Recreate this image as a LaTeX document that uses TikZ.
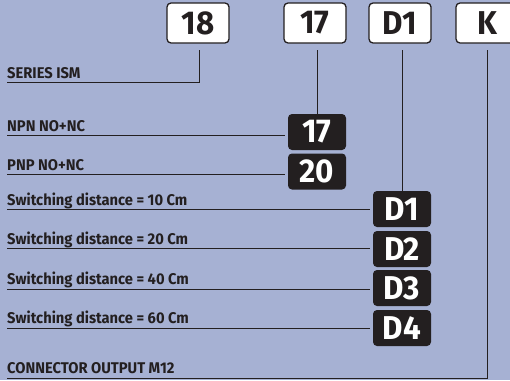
\documentclass[tikz,border=0pt]{standalone}
\usepackage{fontspec}
\newfontfamily\labfont[FakeStretch=0.95]{Fira Sans}
\newfontfamily\numfont[FakeStretch=0.95]{Fira Sans}
\definecolor{bg}{RGB}{166,177,211}
\definecolor{ink}{RGB}{35,31,32}
\begin{document}
\begin{tikzpicture}[x=1pt,y=-1pt,
 topbox/.style={draw=ink, line width=1.3pt, fill=white, rounded corners=4pt, minimum width=62pt, minimum height=40pt, inner sep=0pt, font=\numfont\bfseries\fontsize{33}{33}\selectfont, text=ink},
 codebox/.style={fill=ink, rounded corners=4pt, minimum width=58pt, minimum height=36pt, inner sep=0pt, text=white, font=\numfont\bfseries\fontsize{33}{33}\selectfont},
 lab/.style={anchor=base west, inner sep=0pt, text=ink, font=\labfont\bfseries\fontsize{15.5}{15.5}\selectfont},
 leader/.style={draw=ink, line width=0.9pt}]
\useasboundingbox (0,0) rectangle (510,380);
\fill[bg] (0,0) rectangle (510,380);
\clip (0,0) rectangle (510,380);
% top code boxes
\node[topbox] (t18) at (198,23) {18};
\node[topbox] (t17) at (315,23) {17};
\node[topbox] (tD1) at (400,23) {D1};
\node[topbox] (tK) at (487,23) {K};
% black option boxes
\node[codebox] (b17) at (317,132) {17};
\node[codebox] (b20) at (317,171.5) {20};
\node[codebox] (bD1) at (402,209) {D1};
\node[codebox] (bD2) at (402,249) {D2};
\node[codebox] (bD3) at (402,288) {D3};
\node[codebox] (bD4) at (402,328) {D4};
% labels
\node[lab] (l1) at (7,78) {SERIES ISM};
\node[lab] (l2) at (7,131.5) {NPN NO+NC};
\node[lab] (l3) at (7,170.5) {PNP NO+NC};
\node[lab] (l4) at (7,205.5) {Switching distance = 10 Cm};
\node[lab] (l5) at (7,244.5) {Switching distance = 20 Cm};
\node[lab] (l6) at (7,284.5) {Switching distance = 40 Cm};
\node[lab] (l7) at (7,323.5) {Switching distance = 60 Cm};
\node[lab] (l8) at (7,373) {CONNECTOR OUTPUT M12};
% leader start points
\coordinate (s18) at (199,50);
\coordinate (s17) at (317,50);
\coordinate (sD1) at (402,50);
\coordinate (sK) at (487,50);
\coordinate (u1) at (7,82);
\coordinate (u2) at (7,135);
\coordinate (u3) at (7,174);
\coordinate (u4) at (7,209);
\coordinate (u5) at (7,248);
\coordinate (u6) at (7,289);
\coordinate (u7) at (7,328);
\coordinate (u8) at (7,378);
% leaders
\draw[leader] (s18) |- (u1);
\draw[leader] (s17) -- (b17.north);
\draw[leader] (sD1) -- (bD1.north);
\draw[leader] (sK) |- (u8);
\draw[leader, shorten >=3pt] (u2) -- (u2 -| b17.west);
\draw[leader, shorten >=3pt] (u3) -- (u3 -| b20.west);
\draw[leader, shorten >=3pt] (u4) -- (u4 -| bD1.west);
\draw[leader, shorten >=3pt] (u5) -- (u5 -| bD2.west);
\draw[leader, shorten >=3pt] (u6) -- (u6 -| bD3.west);
\draw[leader, shorten >=3pt] (u7) -- (u7 -| bD4.west);
\end{tikzpicture}
\end{document}
